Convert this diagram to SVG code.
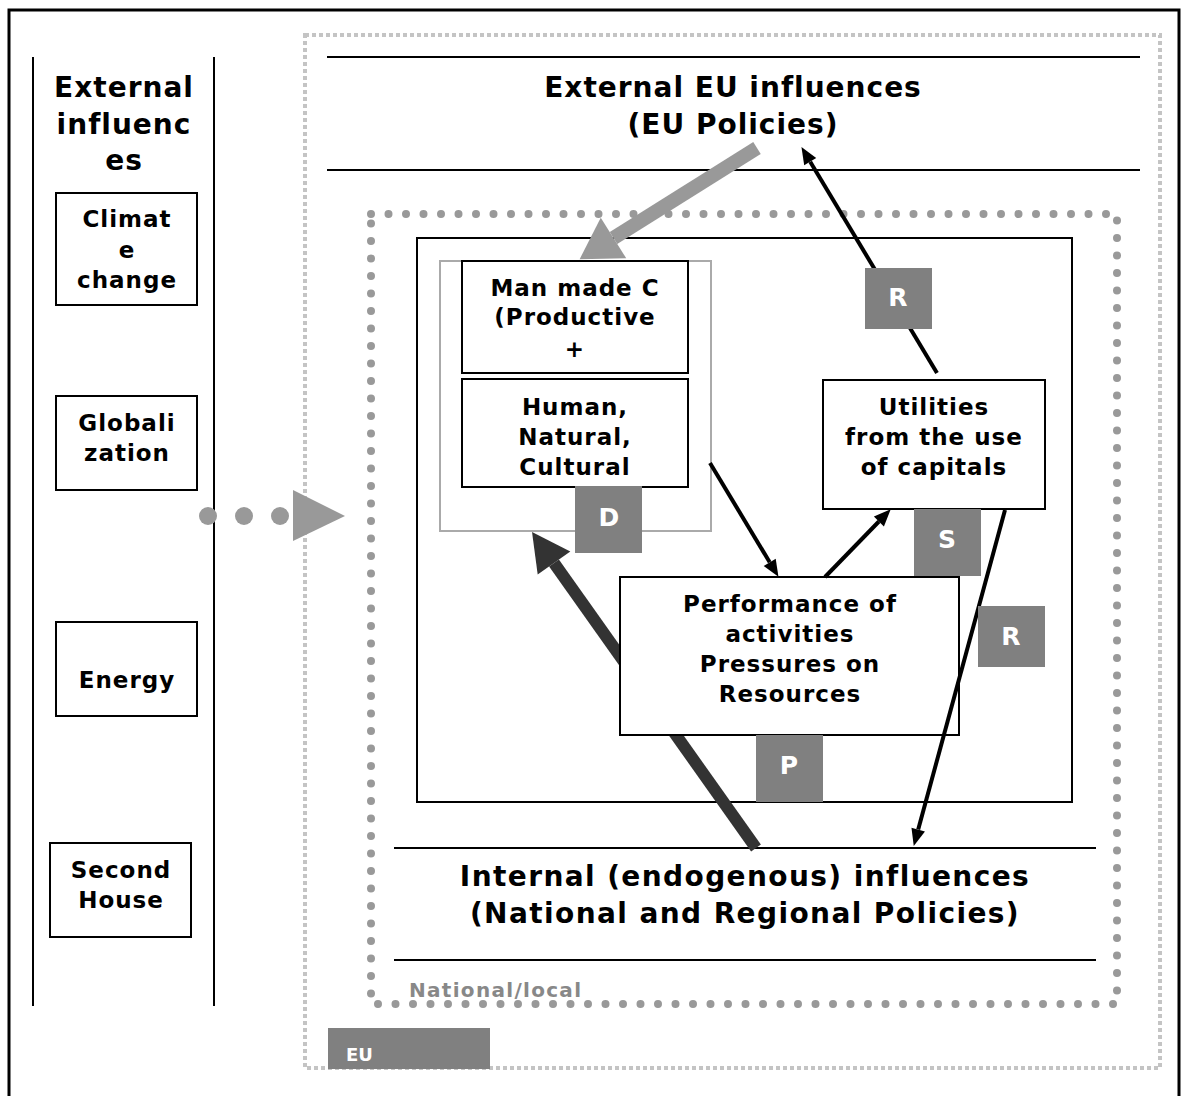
<svg xmlns="http://www.w3.org/2000/svg" width="1188" height="1096" viewBox="0 0 1188 1096">
<style>
text{font-family:"DejaVu Sans",Verdana,"Liberation Sans",sans-serif;font-weight:bold;fill:#000;text-anchor:middle}
.t27{font-size:28px;letter-spacing:1px}
.t22{font-size:23px;letter-spacing:1px}
.box{fill:#fff;stroke:#000;stroke-width:2}
.hl{stroke:#000;stroke-width:2}
.lbl{fill:#808080}
.lt{font-size:25px;fill:#fff}
.blk{stroke:#000;stroke-width:4;fill:none}
</style>
<defs>
<marker id="ah" markerUnits="userSpaceOnUse" viewBox="0 -8 17 16" refX="0" refY="0" markerWidth="17" markerHeight="16" orient="auto" overflow="visible">
<path d="M0,-7 L17,0 L0,7 z" fill="#000"/>
</marker>
<marker id="ahGray" markerUnits="userSpaceOnUse" viewBox="0 -24 40 48" refX="0" refY="0" markerWidth="40" markerHeight="48" orient="auto" overflow="visible">
<path d="M0,-24 L40,0 L0,24 z" fill="#999"/>
</marker>
<marker id="ahDark" markerUnits="userSpaceOnUse" viewBox="0 -20 38 40" refX="0" refY="0" markerWidth="38" markerHeight="40" orient="auto" overflow="visible">
<path d="M0,-20 L38,0 L0,20 z" fill="#333"/>
</marker>
<mask id="perfMask" maskUnits="userSpaceOnUse" x="0" y="0" width="1188" height="1096">
<rect x="0" y="0" width="1188" height="1096" fill="#fff"/>
<rect x="620" y="577" width="339" height="158" fill="#000"/>
</mask>
</defs>
<rect width="1188" height="1096" fill="#fff"/>

<g id="frame">
<path d="M9,1100 V10 H1179 V1100" fill="none" stroke="#000" stroke-width="3"/>
</g>

<g id="external-column">
<line x1="33" y1="57" x2="33" y2="1006" class="hl"/>
<line x1="214" y1="57" x2="214" y2="1006" class="hl"/>
<text class="t27" x="124" y="97">External</text>
<text class="t27" x="124" y="134">influenc</text>
<text class="t27" x="124" y="170">es</text>
</g>

<g id="climate-change">
<rect class="box" x="56" y="193" width="141" height="112"/>
<text class="t22" x="127" y="227">Climat</text>
<text class="t22" x="127" y="258">e</text>
<text class="t22" x="127" y="288">change</text>
</g>
<g id="globalization">
<rect class="box" x="56" y="396" width="141" height="94"/>
<text class="t22" x="127" y="431">Globali</text>
<text class="t22" x="127" y="461">zation</text>
</g>
<g id="energy">
<rect class="box" x="56" y="622" width="141" height="94"/>
<text class="t22" x="127" y="688">Energy</text>
</g>
<g id="second-house">
<rect class="box" x="50" y="843" width="141" height="94"/>
<text class="t22" x="121" y="878">Second</text>
<text class="t22" x="121" y="908">House</text>
</g>

<g id="eu-region">
<rect x="305" y="35" width="855" height="1033" fill="none" stroke="#c4c4c4" stroke-width="4" stroke-dasharray="4 3"/>
<rect class="lbl" x="328" y="1028" width="162" height="41"/>
<text x="346" y="1061" style="font-size:18px;fill:#fff;text-anchor:start">EU</text>
</g>

<g id="external-eu-influences">
<line x1="327" y1="57" x2="1140" y2="57" class="hl"/>
<line x1="327" y1="170" x2="1140" y2="170" class="hl"/>
<text class="t27" x="733" y="97">External EU influences</text>
<text class="t27" x="733" y="134">(EU Policies)</text>
</g>

<g id="national-region">
<rect x="371" y="214" width="746" height="790" fill="none" stroke="#999" stroke-width="8" stroke-linecap="round" stroke-dasharray="0 17.5"/>
<text x="409" y="997" style="font-size:20px;fill:#888;text-anchor:start;letter-spacing:1.3px">National/local</text>
</g>

<g id="internal-influences">
<line x1="394" y1="848" x2="1096" y2="848" class="hl"/>
<line x1="394" y1="960" x2="1096" y2="960" class="hl"/>
<text class="t27" x="745" y="886" style="letter-spacing:1.4px">Internal (endogenous) influences</text>
<text class="t27" x="745" y="923" style="letter-spacing:1.4px">(National and Regional Policies)</text>
</g>

<g id="system">
<rect x="417" y="238" width="655" height="564" fill="none" stroke="#000" stroke-width="2"/>
</g>

<g id="capitals">
<rect x="440" y="261" width="271" height="270" fill="#fff" stroke="#aaa" stroke-width="2"/>
</g>
<g id="man-made-capital">
<rect class="box" x="462" y="261" width="226" height="112"/>
<text class="t22" x="575" y="296">Man made C</text>
<text class="t22" x="575" y="325">(Productive</text>
<text class="t22" x="575" y="357">+</text>
</g>
<g id="human-natural-cultural">
<rect class="box" x="462" y="379" width="226" height="108"/>
<text class="t22" x="575" y="415">Human,</text>
<text class="t22" x="575" y="445">Natural,</text>
<text class="t22" x="575" y="475">Cultural</text>
</g>
<g id="utilities">
<rect class="box" x="823" y="380" width="222" height="129"/>
<text class="t22" x="934" y="415">Utilities</text>
<text class="t22" x="934" y="445">from the use</text>
<text class="t22" x="934" y="475">of capitals</text>
</g>

<g id="connectors">
<g id="dots-arrow" fill="#999">
<circle cx="208" cy="516" r="9"/>
<circle cx="244" cy="516" r="9"/>
<circle cx="280" cy="516" r="9"/>
<path d="M293,490 L345,516 L293,541 z"/>
</g>
<line x1="756" y1="848" x2="554" y2="563" stroke="#333" stroke-width="12" marker-end="url(#ahDark)" mask="url(#perfMask)"/>
<line x1="757" y1="148" x2="613.5" y2="238" stroke="#999" stroke-width="14" marker-end="url(#ahGray)"/>
</g>

<g id="performance">
<rect class="box" x="620" y="577" width="339" height="158"/>
<text class="t22" x="790" y="612">Performance of</text>
<text class="t22" x="790" y="642">activities</text>
<text class="t22" x="790" y="672">Pressures on</text>
<text class="t22" x="790" y="702">Resources</text>
</g>

<g id="connectors-black">
<line class="blk" x1="937" y1="373" x2="810.2" y2="161.7" marker-end="url(#ah)"/>
<line class="blk" x1="710" y1="463" x2="769.7" y2="562.3" marker-end="url(#ah)"/>
<line class="blk" x1="825" y1="577" x2="878.9" y2="521.5" marker-end="url(#ah)"/>
<line class="blk" x1="1005" y1="510" x2="918.2" y2="829.6" marker-end="url(#ah)"/>
</g>

<g id="label-D"><rect class="lbl" x="575" y="486" width="67" height="67"/><text class="lt" x="609" y="526">D</text></g>
<g id="label-S"><rect class="lbl" x="914" y="509" width="67" height="67"/><text class="lt" x="947" y="548">S</text></g>
<g id="label-P"><rect class="lbl" x="756" y="735" width="67" height="67"/><text class="lt" x="789" y="774">P</text></g>
<g id="label-R1"><rect class="lbl" x="865" y="268" width="67" height="61"/><text class="lt" x="898" y="306">R</text></g>
<g id="label-R2"><rect class="lbl" x="978" y="606" width="67" height="61"/><text class="lt" x="1011" y="645">R</text></g>
</svg>
